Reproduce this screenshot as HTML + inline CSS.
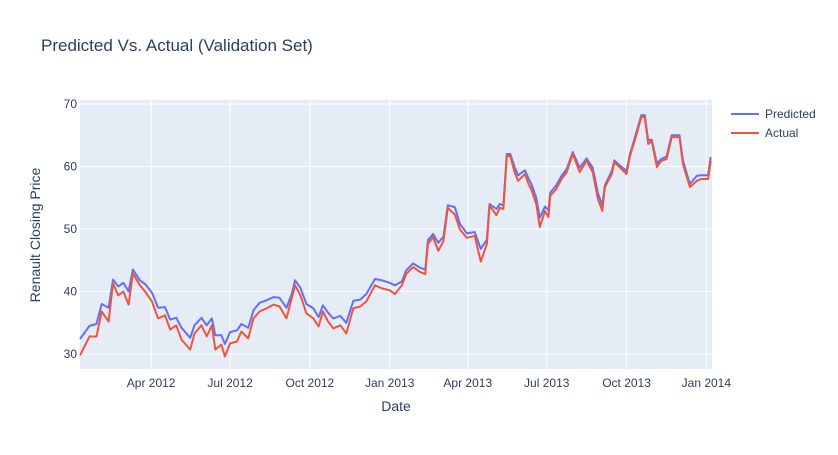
<!DOCTYPE html>
<html><head><meta charset="utf-8">
<style>
body{margin:0;background:#fff;font-family:"Liberation Sans",Arial,sans-serif;}
svg text{font-family:"Liberation Sans",Arial,sans-serif;fill:#2a3f5f;}
</style></head>
<body>
<svg id="chart" width="838" height="450" xmlns="http://www.w3.org/2000/svg">
<rect width="838" height="450" fill="#fff"/>
<text x="41" y="51" font-size="17">Predicted Vs. Actual (Validation Set)</text>
<rect x="80" y="100" width="632" height="269" fill="#e5ecf6"/>
<g id="grid"></g>
<g id="series"></g>
<g id="ticks"></g>
<text x="396" y="411" font-size="14" text-anchor="middle">Date</text>
<text x="0" y="0" font-size="14" text-anchor="middle" transform="translate(40,235) rotate(-90)">Renault Closing Price</text>
<g>
<g><line x1="731" y1="114" x2="759" y2="114" stroke="#636efa" stroke-width="2"/><text x="765" y="118" font-size="12">Predicted</text></g>
<g><line x1="731" y1="133" x2="759" y2="133" stroke="#EF553B" stroke-width="2"/><text x="765" y="137" font-size="12">Actual</text></g>
</g>
</svg>
<script>
// day offsets from 2012-01-10
const days = [0,11,19,25,33,38,44,50,56,61,69,75,83,90,98,104,111,117,127,132,140,146,152,156,163,167,173,181,186,194,200,207,215,223,230,238,244,248,254,261,269,275,280,286,292,300,307,315,323,330,340,348,357,363,371,376,384,392,398,401,407,413,419,424,432,438,446,455,462,469,472,480,484,488,492,496,501,505,513,517,520,526,530,536,540,542,549,555,561,568,576,584,591,597,602,605,613,616,622,630,634,640,647,651,655,659,665,670,676,682,691,695,703,711,716,724,727];
const actual = [29.8,32.8,32.8,36.8,35.2,41.3,39.4,40,37.9,42.9,41,40,38.4,35.7,36.2,33.9,34.6,32.3,30.7,33.3,34.6,32.8,34.6,30.7,31.5,29.6,31.7,32,33.6,32.5,35.7,36.8,37.3,37.9,37.6,35.7,38.9,41,39.4,36.5,35.7,34.4,36.8,35.2,34.1,34.6,33.3,37.3,37.6,38.4,41,40.5,40.2,39.6,41,42.8,43.9,43.1,42.8,47.6,48.7,46.5,48.1,53.4,52.3,49.9,48.6,48.9,44.8,47.6,53.8,52.2,53.4,53.2,61.7,61.7,59.1,57.7,58.8,57.2,56.4,54,50.3,52.9,51.9,55.3,56.4,58,59.1,62,59.1,60.9,59.1,54.8,52.9,56.7,58.8,60.7,59.9,58.8,61.7,64.4,67.9,67.9,63.6,64.1,59.9,60.9,61.2,64.7,64.7,60.4,56.7,57.7,58,58,60.9];
const predicted = [32.4,34.5,34.8,38,37.4,41.9,40.8,41.4,40,43.5,41.8,41.2,39.8,37.4,37.5,35.5,35.8,34.2,32.6,34.6,35.8,34.6,35.7,33,33,31.6,33.5,33.8,34.8,34.2,37,38.2,38.6,39.1,39,37.4,39.6,41.8,40.6,38,37.3,35.9,37.8,36.6,35.7,36.1,35,38.5,38.7,39.6,42,41.8,41.4,41,41.6,43.4,44.5,43.8,43.5,48.2,49.2,47.8,48.8,53.8,53.5,50.8,49.3,49.5,46.8,48.3,54,53.2,54,53.8,62,62,59.9,58.6,59.4,58.1,57.3,55,51.8,53.6,53,55.8,57,58.5,59.6,62.3,59.8,61.3,59.8,55.8,53.8,57,59.3,61,60.2,59.3,62,64.8,68.2,68.2,64.2,64.3,60.5,61.2,61.6,65,65,61,57.2,58.5,58.6,58.6,61.5];
const yTicks = [30,40,50,60,70];
const xTickLabels = ["Apr 2012","Jul 2012","Oct 2012","Jan 2013","Apr 2013","Jul 2013","Oct 2013","Jan 2014"];
const xTickDays = [82,173,265,357,447,538,630,722];

const NS="http://www.w3.org/2000/svg";
const X0=80,X1=712,Y0=100,Y1=369;
const dMin=0,dMax=728.5,vMin=27.6,vMax=70.64;
const xs=d=>X0+(d-dMin)/(dMax-dMin)*(X1-X0);
const ys=v=>Y1-(v-vMin)/(vMax-vMin)*(Y1-Y0);
function mk(tag,attrs,parent){const e=document.createElementNS(NS,tag);for(const k in attrs)e.setAttribute(k,attrs[k]);parent.appendChild(e);return e;}
const grid=document.getElementById('grid'),ticks=document.getElementById('ticks'),series=document.getElementById('series');
yTicks.forEach(v=>{
  const l=mk('line',{x1:X0,x2:X1,y1:ys(v),y2:ys(v),stroke:'#fff','stroke-width':1},grid);
  
  
  const t=mk('text',{x:X0-3,y:ys(v)+4,'font-size':12,'text-anchor':'end'},ticks);
  t.textContent=v;
  
  
});
xTickDays.forEach((d,i)=>{
  const l=mk('line',{x1:xs(d),x2:xs(d),y1:Y0,y2:Y1,stroke:'#fff','stroke-width':1},grid);
  
  
  const t=mk('text',{x:xs(d),y:387,'font-size':12,'text-anchor':'middle'},ticks);
  t.textContent=xTickLabels[i];
  
  
});
function line(vals,color,name){
  const p=mk('path',{d:vals.map((v,i)=>(i?'L':'M')+xs(days[i]).toFixed(1)+','+ys(v).toFixed(1)).join(''),fill:'none',stroke:color,'stroke-width':2,'stroke-linejoin':'round'},series);
  
  
}
line(predicted,'#636efa','predicted-line');
line(actual,'#EF553B','actual-line');
</script>
</body></html>
